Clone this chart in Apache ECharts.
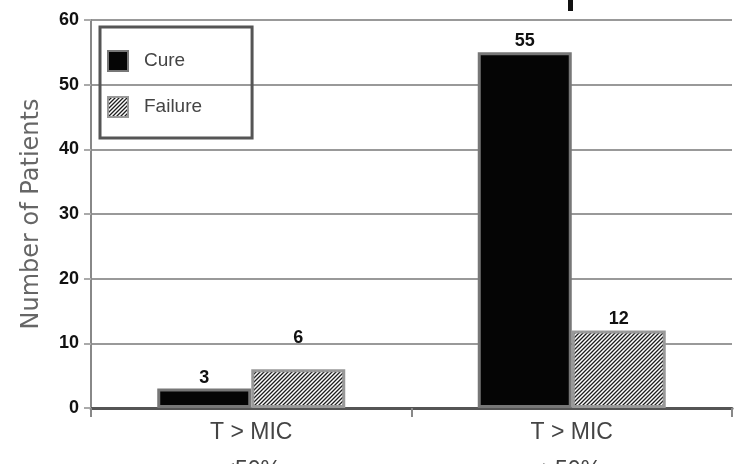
<!DOCTYPE html>
<html>
<head>
<meta charset="utf-8">
<script src="https://cdn.jsdelivr.net/npm/echarts@6/dist/echarts.min.js"></script>
<style>
  html, body { margin: 0; padding: 0; background: #fff; }
  #chart { width: 734px; height: 464px; }
</style>
</head>
<body>
<div id="chart"></div>
<script>
// Outcome counts by exposure group
const categories = ['T > MIC\n<50%', 'T > MIC\n\u226550%'];
const cureCounts = [3, 55];
const failureCounts = [6, 12];
const yTicks = [0, 10, 20, 30, 40, 50, 60];

// Diagonal hatch tile for the failure bars
function hatchTile() {
  const c = document.createElement('canvas');
  c.width = 4; c.height = 4;
  const g = c.getContext('2d');
  g.fillStyle = '#9a9a9a';
  g.fillRect(0, 0, 4, 4);
  for (let i = 0; i < 4; i++) {
    g.fillStyle = '#1e1e1e';
    g.fillRect(i, 3 - i, 1, 1);
    g.fillStyle = '#ffffff';
    g.fillRect(i, (5 - i) % 4, 1, 1);
  }
  return c;
}

const chart = echarts.init(document.getElementById('chart'), null, { renderer: 'canvas' });

const labelFont = { fontFamily: 'Liberation Sans', fontWeight: 'bold', fontSize: 18, color: '#111' };

chart.setOption({
  animation: false,
  backgroundColor: '#fff',
  grid: { left: 91, right: 2, top: 20, bottom: 56, containLabel: false, outerBoundsMode: 'none' },
  legend: {
    orient: 'vertical',
    left: 100,
    top: 27,
    padding: [23, 50, 20, 7],
    itemWidth: 20,
    itemHeight: 20,
    itemGap: 24,
    icon: 'rect',
    borderColor: '#555',
    borderWidth: 3,
    textStyle: { fontFamily: 'Liberation Sans', fontSize: 19, color: '#444', padding: [0, 0, 0, 11] },
    data: ['Cure', 'Failure']
  },
  xAxis: {
    type: 'category',
    data: categories,
    axisLine: { lineStyle: { color: '#555', width: 3 } },
    axisTick: { show: true, length: 9, lineStyle: { color: '#888', width: 2 } },
    axisLabel: {
      margin: 6,
      fontFamily: 'Liberation Sans',
      fontSize: 23,
      lineHeight: 38,
      color: '#444'
    }
  },
  yAxis: {
    type: 'value',
    min: yTicks[0],
    max: yTicks[yTicks.length - 1],
    interval: 10,
    name: 'Number of Patients',
    nameLocation: 'middle',
    nameRotate: 90,
    nameGap: 47,
    nameTextStyle: { fontFamily: 'DejaVu Sans', fontSize: 24, color: '#666' },
    axisLine: { show: true, lineStyle: { color: '#888', width: 2 } },
    axisTick: { show: true, length: 7, lineStyle: { color: '#aaa', width: 2 } },
    splitLine: { show: true, lineStyle: { color: '#999', width: 2 } },
    axisLabel: Object.assign({ margin: 12 }, labelFont)
  },
  series: [
    {
      name: 'Cure',
      type: 'bar',
      data: cureCounts,
      barWidth: 94,
      barGap: '0%',
      itemStyle: { color: '#050505', borderColor: '#777', borderWidth: 3 },
      label: Object.assign({ show: true, position: 'top', distance: 2 }, labelFont)
    },
    {
      name: 'Failure',
      type: 'bar',
      data: failureCounts.map((v, i) => i === 0
        ? { value: v, label: { distance: 22 } }
        : { value: v }),
      barWidth: 94,
      barGap: '0%',
      itemStyle: {
        color: { image: hatchTile(), repeat: 'repeat' },
        borderColor: '#999',
        borderWidth: 3
      },
      label: Object.assign({ show: true, position: 'top', distance: 2 }, labelFont)
    }
  ],
  graphic: [
    {
      type: 'rect',
      left: 568,
      top: 0,
      shape: { width: 5, height: 11 },
      style: { fill: '#111' }
    }
  ]
});
</script>
</body>
</html>
